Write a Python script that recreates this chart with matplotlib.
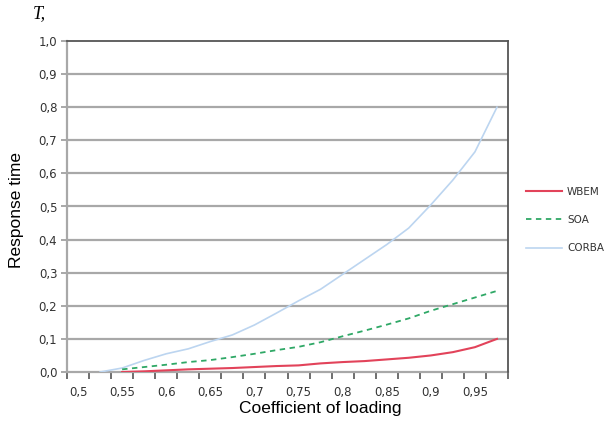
import matplotlib
matplotlib.use("Agg")
import matplotlib.pyplot as plt
import numpy as np

loading = [0.5, 0.525, 0.55, 0.575, 0.6, 0.625, 0.65, 0.675, 0.7, 0.725,
           0.75, 0.775, 0.8, 0.825, 0.85, 0.875, 0.9, 0.925, 0.95, 0.975]
wbem = [np.nan, np.nan, 0.0, 0.002, 0.005, 0.008, 0.01, 0.012, 0.015, 0.018,
        0.02, 0.026, 0.03, 0.033, 0.038, 0.043, 0.05, 0.06, 0.075, 0.1]
soa = [np.nan, np.nan, 0.008, 0.015, 0.022, 0.03, 0.036, 0.045, 0.055, 0.066,
       0.076, 0.09, 0.108, 0.125, 0.143, 0.162, 0.185, 0.205, 0.225, 0.245]
corba = [np.nan, 0.0, 0.012, 0.035, 0.055, 0.07, 0.092, 0.112, 0.142, 0.178,
         0.215, 0.25, 0.295, 0.34, 0.385, 0.435, 0.505, 0.58, 0.665, 0.8]
xtick_labels = ["0,5", "0,55", "0,6", "0,65", "0,7", "0,75", "0,8", "0,85", "0,9", "0,95"]
ytick_vals = [0.0, 0.1, 0.2, 0.3, 0.4, 0.5, 0.6, 0.7, 0.8, 0.9, 1.0]
ytick_labels = ["0,0", "0,1", "0,2", "0,3", "0,4", "0,5", "0,6", "0,7", "0,8", "0,9", "1,0"]

fig = plt.figure(figsize=(6.08, 4.23), dpi=100)
ax = fig.add_axes([67/608, 1-372/423, 441/608, 331/423])

grid_c = "#a8a8a8"
for v in ytick_vals[1:-1]:
    ax.axhline(v, color=grid_c, lw=1.6, zorder=1)

ax.plot(loading, corba, color="#bcd5f0", lw=1.2, label="CORBA", zorder=3)
ax.plot(loading, soa, color="#2fa866", lw=1.3, ls=(0, (3, 2.5)), label="SOA", zorder=4)
ax.plot(loading, wbem, color="#e2435a", lw=1.5, label="WBEM", zorder=5)

ax.set_xlim(0.4875, 0.9875)
ax.set_ylim(0, 1.0)

step = 0.025
bounds = [loading[0] - step/2 + step*k for k in range(len(loading) + 1)]
ax.set_xticks(bounds)
ax.set_xticklabels([])
ax.tick_params(axis="x", which="major", direction="out", length=5, width=1.2, color="#555555")
ax.set_xticks(loading[::2], minor=True)
ax.set_xticklabels(xtick_labels, minor=True)
ax.tick_params(axis="x", which="minor", length=0, pad=10, labelsize=8.5, labelcolor="#333333")

ax.set_yticks(ytick_vals)
ax.set_yticklabels(ytick_labels)
ax.tick_params(axis="y", direction="out", length=4, width=1.2, color="#999999",
               labelsize=8.5, labelcolor="#333333", pad=3)

for s in ["left", "bottom"]:
    ax.spines[s].set_color(grid_c)
    ax.spines[s].set_linewidth(1.6)
ax.spines["bottom"].set_zorder(2)
for s in ["top", "right"]:
    ax.spines[s].set_color("#555555")
    ax.spines[s].set_linewidth(1.3)

fig.text(320/608, 1-408/423, "Coefficient of loading", family="Liberation Sans",
         fontsize=12.5, ha="center", va="center")
fig.text(17/608, 1-210/423, "Response time", family="Liberation Sans",
         fontsize=12.5, ha="center", va="center", rotation=90)
fig.text(33/608, 1-14/423, "T,", family="Liberation Serif", style="italic", fontsize=13,
         va="center", ha="left")

handles, labels = ax.get_legend_handles_labels()
order = [2, 1, 0]
leg = fig.legend([handles[i] for i in order], [labels[i] for i in order],
                 loc="center left", bbox_to_anchor=(517/608, 1-220/423), frameon=False,
                 fontsize=7.5, handlelength=3.4, labelspacing=1.75, handletextpad=0.5)
for t in leg.get_texts():
    t.set_color("#333333")

fig.savefig("out.png", dpi=100)
